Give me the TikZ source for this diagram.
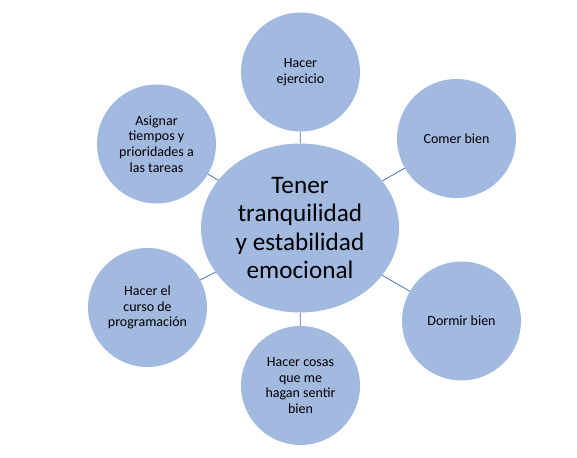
\documentclass[tikz,border=0pt]{standalone}
\usepackage{fontspec}
\setmainfont{Carlito}
\usepackage{xcolor}
\usepackage{tikz}
\usetikzlibrary{shapes.geometric}
\definecolor{relleno}{RGB}{162,185,224}
\definecolor{linea}{RGB}{68,114,196}

\begin{document}
\begin{tikzpicture}[
  x=1pt, y=-1pt,
  idea/.style={circle, fill=relleno, minimum size=119pt, inner sep=0pt,
               text centered, align=center, font=\fontsize{14}{15.8}\selectfont},
  centro/.style={ellipse, fill=relleno, minimum width=198pt, minimum height=169pt,
               inner sep=0pt, text centered, align=center,
               font=\fontsize{25.2}{28.5}\selectfont},
  enlace/.style={draw=linea, line width=0.8pt},
]
\useasboundingbox (0,0) rectangle (577,457);

% Centro
\node[centro] (emocion) at (300, 228) {Tener\\tranquilidad\\y estabilidad\\emocional};

% Ideas alrededor
\node[idea] (ejercicio) at (300.5, 72) {Hacer\\ejercicio};
\node[idea] (comer)     at (456.5, 138.5) {Comer bien};
\node[idea] (dormir)    at (461.5, 321) {Dormir bien};
\node[idea] (cosas)     at (300.5, 385.5) {Hacer cosas\\que me\\hagan sentir\\bien};
\node[idea] (curso)     at (147.5, 307.5) {Hacer el\\curso de\\programaci\'on};
\node[idea] (tiempos)   at (156.5, 144) {Asignar\\tiempos y\\prioridades a\\las tareas};

% Enlaces
\draw[enlace] (emocion) -- (ejercicio);
\draw[enlace] (emocion) -- (comer);
\draw[enlace] (emocion) -- (dormir);
\draw[enlace] (emocion) -- (cosas);
\draw[enlace] (emocion) -- (curso);
\draw[enlace] (emocion) -- (tiempos);

\end{tikzpicture}
\end{document}
